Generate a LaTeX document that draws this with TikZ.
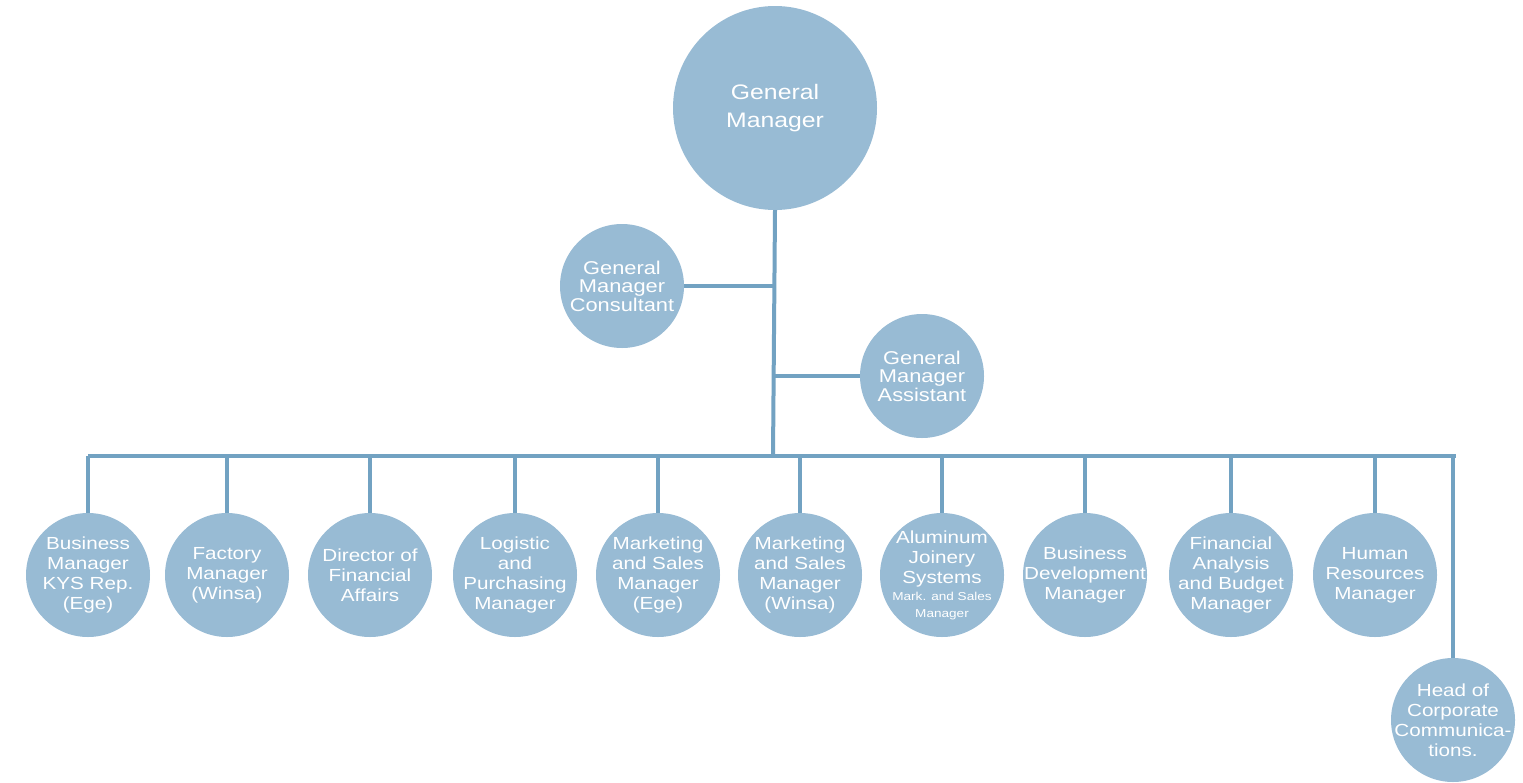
\documentclass[tikz,border=0pt]{standalone}
\usepackage{fontspec}
\setmainfont{Liberation Sans}[FakeStretch=1.18]
\usetikzlibrary{backgrounds}
\definecolor{circfill}{HTML}{98BBD4}
\definecolor{linecol}{HTML}{72A2C2}
\tikzset{
  org/.style={circle, fill=circfill, draw=none, text=white, align=center, inner sep=-40pt, minimum size=124pt},
  big/.style={org, minimum size=204pt, font=\fontsize{21}{28}\selectfont},
  mid/.style={org, minimum size=124pt, font=\fontsize{18.5}{18.5}\selectfont},
  low/.style={org, minimum size=124pt, font=\fontsize{17.5}{20}\selectfont},
  conn/.style={draw=linecol, line width=4pt}
}
\begin{document}
\begin{tikzpicture}[x=1pt,y=-1pt]
\useasboundingbox (0,0) rectangle (1523,782);
\coordinate (b0) at (773,456);
\coordinate (bl) at (90,456);
\coordinate (br) at (1454,456);
\node[big] (gm) at (775,108) {General\\Manager};
\node[mid] (con) at (622,286) {General\\Manager\\Consultant};
\node[mid] (asst) at (922,376) {General\\Manager\\Assistant};
\node[low] (n1) at (88,575) {Business\\Manager\\KYS Rep.\\(Ege)};
\node[low] (n2) at (227,575) {Factory\\Manager\\(Winsa)};
\node[low] (n3) at (370,575) {Director of\\Financial\\Affairs};
\node[low] (n4) at (515,575) {Logistic\\and\\Purchasing\\Manager};
\node[low] (n5) at (658,575) {Marketing\\and Sales\\Manager\\(Ege)};
\node[low] (n6) at (800,575) {Marketing\\and Sales\\Manager\\(Winsa)};
\node[low] (n7) at (942,575) {Aluminum\\Joinery\\Systems\\[-3pt]{\fontsize{11.5}{14}\selectfont Mark. and Sales}\\[-3pt]{\fontsize{11.5}{14}\selectfont Manager}};
\node[low] (n8) at (1085,575) {Business\\Development\\Manager};
\node[low] (n9) at (1231,575) {Financial\\Analysis\\and Budget\\Manager};
\node[low] (n10) at (1375,575) {Human\\Resources\\Manager};
\node[low] (n11) at (1453,720) {Head of\\Corporate\\Communica-\\tions.};
\begin{scope}[on background layer]
\draw[conn] (gm.south) -- (b0);
\draw[conn] (con.east) -- (con.east -| b0);
\draw[conn] (asst.west) -- (asst.west -| b0);
\draw[conn, line cap=rect] (bl) -- (br);
\foreach \n in {n1,n2,n3,n4,n5,n6,n7,n8,n9,n10,n11}
  \draw[conn] (\n.north) -- (\n.north |- bl);
\end{scope}
\end{tikzpicture}
\end{document}
